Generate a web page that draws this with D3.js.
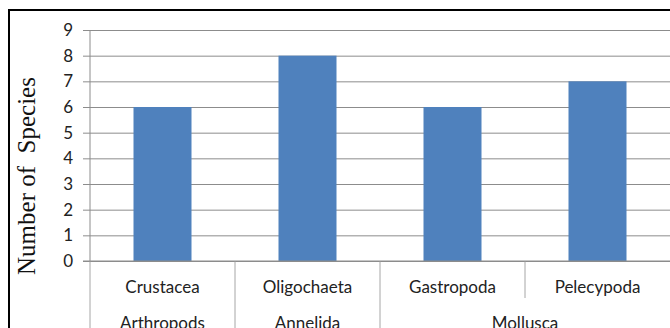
<!DOCTYPE html>
<html>
<head>
<meta charset="utf-8">
<script src="https://cdn.jsdelivr.net/npm/d3@7"></script>
<style>
  html, body { margin: 0; padding: 0; background: #fff; overflow: hidden; }
  svg { display: block; }
</style>
</head>
<body>
<script>
// Species counts per taxon, grouped by phylum
const categories = ["Crustacea", "Oligochaeta", "Gastropoda", "Pelecypoda"];
const groups = ["Arthropods", "Annelida", "Mollusca", "Mollusca"];
const speciesCounts = [6, 8, 6, 7];
const yTicks = [0, 1, 2, 3, 4, 5, 6, 7, 8, 9];

const W = 670, H = 328;
const plot = { left: 90, right: 670, top: 30, bottom: 261 };

const svg = d3.select("body").append("svg")
  .attr("width", W).attr("height", H);

// outer chart frame
svg.append("rect")
  .attr("x", 9).attr("y", 10)
  .attr("width", W + 10).attr("height", H + 10)
  .attr("fill", "#fff").attr("stroke", "#000").attr("stroke-width", 2);

const x = d3.scaleBand().domain(categories)
  .range([plot.left, plot.right]).paddingInner(0).paddingOuter(0);
const y = d3.scaleLinear().domain([0, 9]).range([plot.bottom, plot.top]);

const labelFont = "Lato, 'Open Sans', sans-serif";
const labelSize = 17;

// horizontal gridlines with short tick marks
const tickLen = 7;
const yAxis = d3.axisLeft(y).tickValues(yTicks)
  .tickSize(-(plot.right - plot.left + tickLen)).tickSizeOuter(0);
const gy = svg.append("g")
  .attr("transform", `translate(${plot.left - tickLen},0)`)
  .call(yAxis);
gy.select(".domain").remove();
gy.selectAll(".tick line").attr("stroke", "#8c8c8c").attr("stroke-width", 1);
gy.selectAll(".tick text")
  .attr("fill", "#222").attr("font-family", labelFont).attr("font-size", labelSize)
  .attr("x", -10);

// vertical axis line
svg.append("line")
  .attr("x1", plot.left).attr("x2", plot.left)
  .attr("y1", plot.top).attr("y2", plot.bottom)
  .attr("stroke", "#8c8c8c");

// bars
svg.append("g").selectAll("rect")
  .data(categories)
  .join("rect")
  .attr("x", d => x(d) + x.bandwidth() * 0.3)
  .attr("width", x.bandwidth() * 0.4)
  .attr("y", (d, i) => y(speciesCounts[i]))
  .attr("height", (d, i) => y(0) - y(speciesCounts[i]))
  .attr("fill", "#4f81bd");

// category separators below the axis
const sepColor = "#a6a6a6";
categories.forEach((c, i) => {
  const xs = x(c);
  const sameGroupAsPrev = i > 0 && groups[i] === groups[i - 1];
  svg.append("line")
    .attr("x1", xs).attr("x2", xs)
    .attr("y1", plot.bottom).attr("y2", sameGroupAsPrev ? 298 : H)
    .attr("stroke", sepColor);
});

// category labels
svg.append("g").selectAll("text")
  .data(categories)
  .join("text")
  .attr("x", d => x(d) + x.bandwidth() / 2)
  .attr("y", 293)
  .attr("text-anchor", "middle")
  .attr("font-family", labelFont).attr("font-size", labelSize).attr("fill", "#222")
  .text(d => d);

// group labels centred on the span of their categories
const groupSpans = [];
groups.forEach((g, i) => {
  const last = groupSpans[groupSpans.length - 1];
  if (last && last.name === g) last.x1 = x(categories[i]) + x.bandwidth();
  else groupSpans.push({ name: g, x0: x(categories[i]), x1: x(categories[i]) + x.bandwidth() });
});
svg.append("g").selectAll("text")
  .data(groupSpans)
  .join("text")
  .attr("x", d => (d.x0 + d.x1) / 2)
  .attr("y", 329)
  .attr("text-anchor", "middle")
  .attr("font-family", labelFont).attr("font-size", labelSize).attr("fill", "#222")
  .text(d => d.name);

// x axis baseline
svg.append("line")
  .attr("x1", plot.left - tickLen).attr("x2", plot.right)
  .attr("y1", plot.bottom).attr("y2", plot.bottom)
  .attr("stroke", "#8c8c8c");

// y axis title
svg.append("text")
  .attr("transform", `translate(35,176) rotate(-90)`)
  .attr("text-anchor", "middle")
  .attr("font-family", "'Liberation Serif', 'Times New Roman', serif")
  .attr("font-size", 25).attr("fill", "#111")
  .style("white-space", "pre")
  .text("Number of  Species");
</script>
</body>
</html>
